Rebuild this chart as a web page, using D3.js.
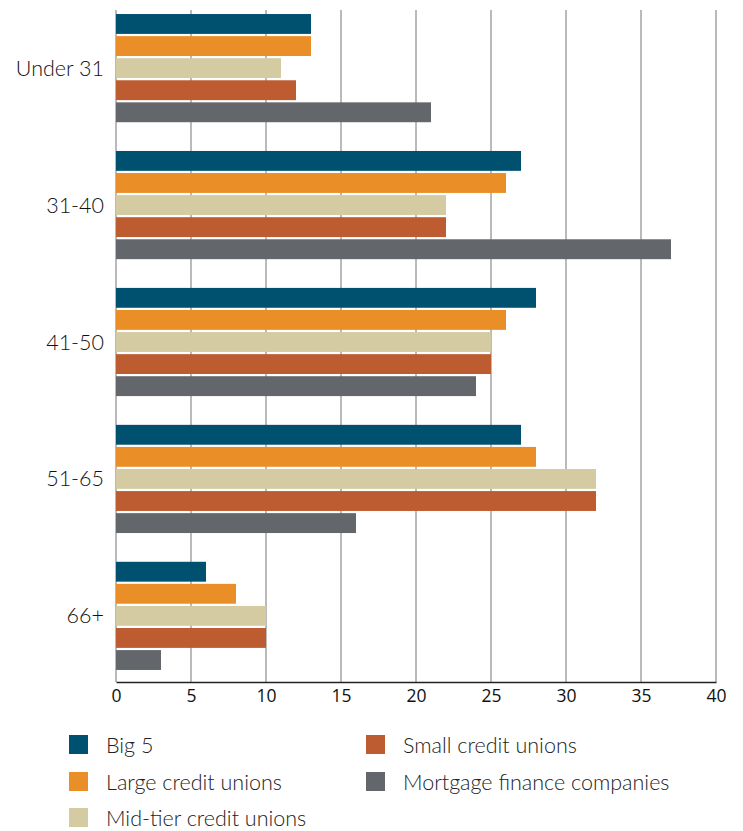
<!DOCTYPE html>
<html><head><meta charset="utf-8">
<script src="https://cdn.jsdelivr.net/npm/d3@7"></script>
<style>body{margin:0;background:#fff;} svg{display:block;font-family:Lato,"Open Sans",sans-serif;}</style>
</head><body>
<svg id="c" width="743" height="831"></svg>
<script>
const categories = ["Under 31","31-40","41-50","51-65","66+"];
const seriesNames = ["Big 5","Large credit unions","Mid-tier credit unions","Small credit unions","Mortgage finance companies"];
const big5 = [13,27,28,27,6];
const large = [13,26,26,28,8];
const midTier = [11,22,25,32,10];
const small = [12,22,25,32,10];
const mortgage = [21,37,24,16,3];
const xTicks = [0,5,10,15,20,25,30,35,40];
const colors = ["#00506f","#ea8e27","#d5cba2","#bd5b31","#63666a"];
const values = [big5,large,midTier,small,mortgage];

const svg = d3.select("#c");
const L=116,R=716,T=10,B=682;
const x = d3.scaleLinear().domain([0,40]).range([L,R]);
const y0 = d3.scaleBand().domain(categories).range([6.5,677.5]).paddingInner(0.21).paddingOuter(0.055);
const y1 = d3.scaleBand().domain(d3.range(5)).range([0,y0.bandwidth()]).paddingInner(0.1);

// grid
svg.append("g").selectAll("line").data(xTicks).join("line")
  .attr("x1",d=>x(d)).attr("x2",d=>x(d)).attr("y1",T).attr("y2",B)
  .attr("stroke","#a9a9a9").attr("stroke-width",1.6);

// bars
const g = svg.append("g").selectAll("g").data(categories).join("g")
  .attr("transform",c=>`translate(0,${y0(c)})`);
g.selectAll("rect").data((c,i)=>values.map((v,s)=>({s,v:v[i]}))).join("rect")
  .attr("x",x(0)).attr("y",d=>y1(d.s)).attr("height",y1.bandwidth())
  .attr("width",d=>x(d.v)-x(0)).attr("fill",d=>colors[d.s]);

// axis
const ax = svg.append("g").attr("transform",`translate(0,${B})`)
  .call(d3.axisBottom(x).tickValues(xTicks).tickSize(0).tickPadding(8));
ax.select(".domain").attr("stroke","#222").attr("stroke-width",1.5);
ax.selectAll("text").attr("font-size",17.5).attr("fill","#111").attr("font-family","'Open Sans',sans-serif");

// category labels
svg.append("g").selectAll("text").data(categories).join("text")
  .attr("x",104).attr("y",c=>y0(c)+y0.bandwidth()/2).attr("dy","0.35em")
  .attr("text-anchor","end").attr("font-size",21.5).attr("font-weight",300).attr("fill","#111").text(c=>c);

// legend
const pos = [[69,735],[69,772],[69,808],[366,735],[366,772]];
const lg = svg.append("g").selectAll("g").data(seriesNames).join("g")
  .attr("transform",(d,i)=>`translate(${pos[i][0]},${pos[i][1]})`);
lg.append("rect").attr("width",19).attr("height",19).attr("fill",(d,i)=>colors[i]);
lg.append("text").attr("x",37).attr("y",10).attr("dy","0.35em").attr("font-size",21.5).attr("font-weight",300).attr("fill","#222").text(d=>d);
</script>
</body></html>
